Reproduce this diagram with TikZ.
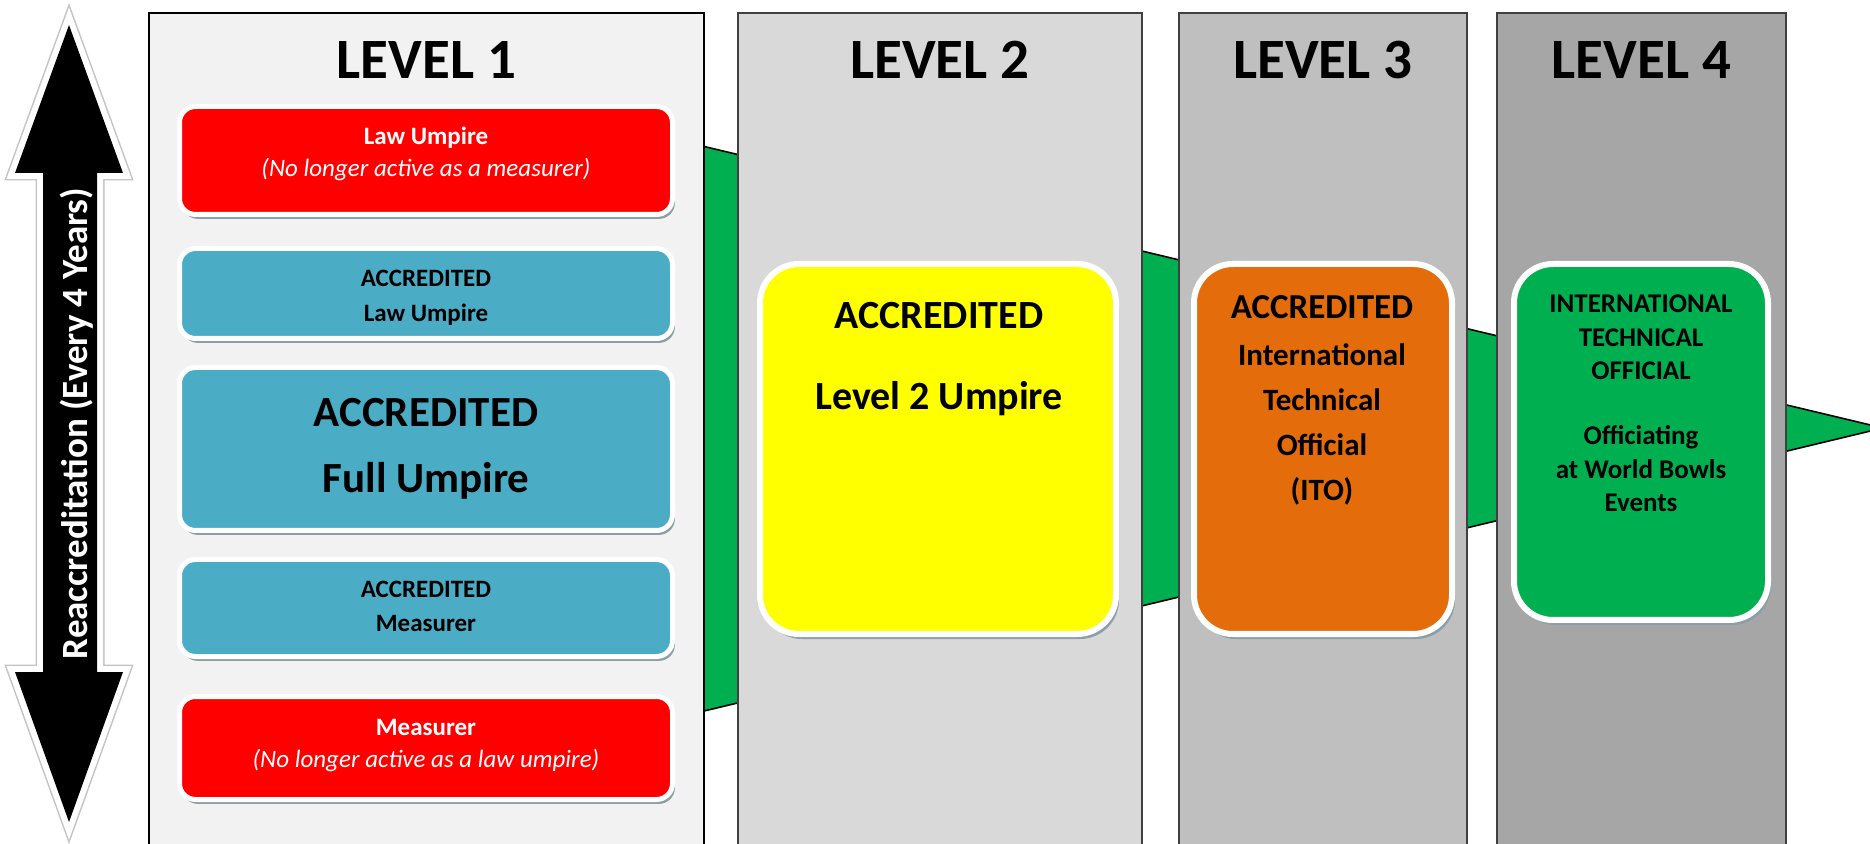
\documentclass[tikz,border=0pt]{standalone}
\usepackage{fontspec}
\setmainfont{Carlito}
\usetikzlibrary{shadows}
\definecolor{pone}{HTML}{F2F2F2}
\definecolor{ptwo}{HTML}{D9D9D9}
\definecolor{pthree}{HTML}{BFBFBF}
\definecolor{pfour}{HTML}{A6A6A6}
\definecolor{boxred}{HTML}{FF0000}
\definecolor{boxblue}{HTML}{4BACC6}
\definecolor{boxyellow}{HTML}{FFFF00}
\definecolor{boxorange}{HTML}{E46C0A}
\definecolor{boxgreen}{HTML}{00B050}
\definecolor{arrgreen}{HTML}{00B050}
\definecolor{shadowc}{HTML}{8A9FA8}
\definecolor{edgegrey}{HTML}{C4C4C4}
\definecolor{panelline}{HTML}{404040}
\begin{document}
\begin{tikzpicture}[x=0.5pt,y=-0.5pt,
  panel/.style={draw=panelline, line width=0.8pt},
  head/.style={anchor=base, inner sep=0pt, font=\bfseries\fontsize{28.5}{30}\selectfont},
  lbox/.style={rectangle, rounded corners=8pt, draw=white, line width=2.5pt,
    drop shadow={shadow xshift=1.2pt, shadow yshift=-2.2pt, fill=shadowc, opacity=1},
    minimum width=246.5pt, inner sep=0pt},
  bigbox/.style={rectangle, rounded corners=19.5pt, draw=white, line width=3pt,
    drop shadow={shadow xshift=1.5pt, shadow yshift=-2.5pt, fill=shadowc, opacity=1},
    inner sep=0pt},
  lbl/.style={anchor=base, inner sep=0pt},
  sm/.style={font=\bfseries\fontsize{12.5}{14}\selectfont},
  smit/.style={font=\itshape\fontsize{12.5}{14}\selectfont},
]
\useasboundingbox (0,0) rectangle (1870,844);
\fill[white] (0,0) rectangle (1870,844);

% big green arrow behind the panels
\draw[fill=arrgreen, draw=black, line width=0.8pt] (300,50) -- (1883,428) -- (300,808) -- cycle;

% panels
\draw[panel, draw=black, fill=pone] (149,13) rectangle (704,900);
\draw[panel, fill=ptwo] (738,13) rectangle (1142,900);
\draw[panel, fill=pthree] (1179,13) rectangle (1467,900);
\draw[panel, fill=pfour] (1497,13) rectangle (1786,900);

% headings
\node[head] (h1) at (426.5,79) {LEVEL 1};
\node[head] (h2) at (940,79) {LEVEL 2};
\node[head] (h3) at (1323,79) {LEVEL 3};
\node[head] (h4) at (1641.5,79) {LEVEL 4};

% reaccreditation double arrow
\draw[edgegrey, line width=7.5pt, line join=miter, miter limit=10]
  (69,25) -- (123,173) -- (97,173) -- (97,672) -- (123,672) -- (69,822)
  -- (15,672) -- (43,672) -- (43,173) -- (15,173) -- cycle;
\draw[white, line width=6pt, line join=miter, miter limit=10]
  (69,25) -- (123,173) -- (97,173) -- (97,672) -- (123,672) -- (69,822)
  -- (15,672) -- (43,672) -- (43,173) -- (15,173) -- cycle;
\fill[black]
  (69,25) -- (123,173) -- (97,173) -- (97,672) -- (123,672) -- (69,822)
  -- (15,672) -- (43,672) -- (43,173) -- (15,173) -- cycle;
\node[lbl, rotate=90, white, font=\bfseries\fontsize{18.5}{20}\selectfont] (reacc) at (87,423.5)
  {Reaccreditation (Every 4 Years)};

% level 1 boxes
\node[lbox, fill=boxred, minimum height=54pt] (r1) at (426,160.5) {};
\node[lbl, sm, white] (r1a) at (426,145) {Law Umpire};
\node[lbl, smit, white] (r1b) at (426,177) {(No longer active as a measurer)};

\node[lbox, fill=boxblue, minimum height=45pt] (b1) at (426,293.5) {};
\node[lbl, sm] (b1a) at (426,287) {ACCREDITED};
\node[lbl, sm] (b1b) at (426,322) {Law Umpire};

\node[lbox, fill=boxblue, minimum height=81.5pt] (b2) at (426,449) {};
\node[lbl, font=\bfseries\fontsize{21.5}{24}\selectfont] (b2a) at (426,427) {ACCREDITED};
\node[lbl, font=\bfseries\fontsize{21.5}{24}\selectfont] (b2b) at (426,493) {Full Umpire};

\node[lbox, fill=boxblue, minimum height=48.5pt] (b3) at (426,608) {};
\node[lbl, sm] (b3a) at (426,597) {ACCREDITED};
\node[lbl, sm] (b3b) at (426,632) {Measurer};

\node[lbox, fill=boxred, minimum height=51.5pt] (r2) at (426,748) {};
\node[lbl, sm, white] (r2a) at (426,735) {Measurer};
\node[lbl, smit, white] (r2b) at (426,767) {(No longer active as a law umpire)};

% level 2
\node[bigbox, fill=boxyellow, minimum width=178pt, minimum height=185pt] (y) at (938,449) {};
\node[lbl, font=\bfseries\fontsize{20}{22}\selectfont] (ya) at (939,329) {ACCREDITED};
\node[lbl, font=\bfseries\fontsize{20}{22}\selectfont] (yb) at (939,410) {Level 2 Umpire};

% level 3
\node[bigbox, fill=boxorange, minimum width=129pt, minimum height=185pt] (o) at (1323,449) {};
\node[lbl, font=\bfseries\fontsize{17.5}{20}\selectfont] (oa) at (1322,319) {ACCREDITED};
\node[lbl, font=\bfseries\fontsize{15.5}{18}\selectfont] (ob) at (1322,366) {International};
\node[lbl, font=\bfseries\fontsize{15.5}{18}\selectfont] (oc) at (1322,411) {Technical};
\node[lbl, font=\bfseries\fontsize{15.5}{18}\selectfont] (od) at (1322,456) {Official};
\node[lbl, font=\bfseries\fontsize{15.5}{18}\selectfont] (oe) at (1322,501) {(ITO)};

% level 4
\node[bigbox, fill=boxgreen, minimum width=127pt, minimum height=178pt] (g) at (1641,442) {};
\begin{scope}[every node/.style={lbl, font=\bfseries\fontsize{13.5}{16}\selectfont}]
\node (ga) at (1641,313) {INTERNATIONAL};
\node (gb) at (1641,347) {TECHNICAL};
\node (gc) at (1641,380) {OFFICIAL};
\node (gd) at (1641,445) {Officiating};
\node (ge) at (1641,479) {at World Bowls};
\node (gf) at (1641,512) {Events};
\end{scope}
\end{tikzpicture}
\end{document}
